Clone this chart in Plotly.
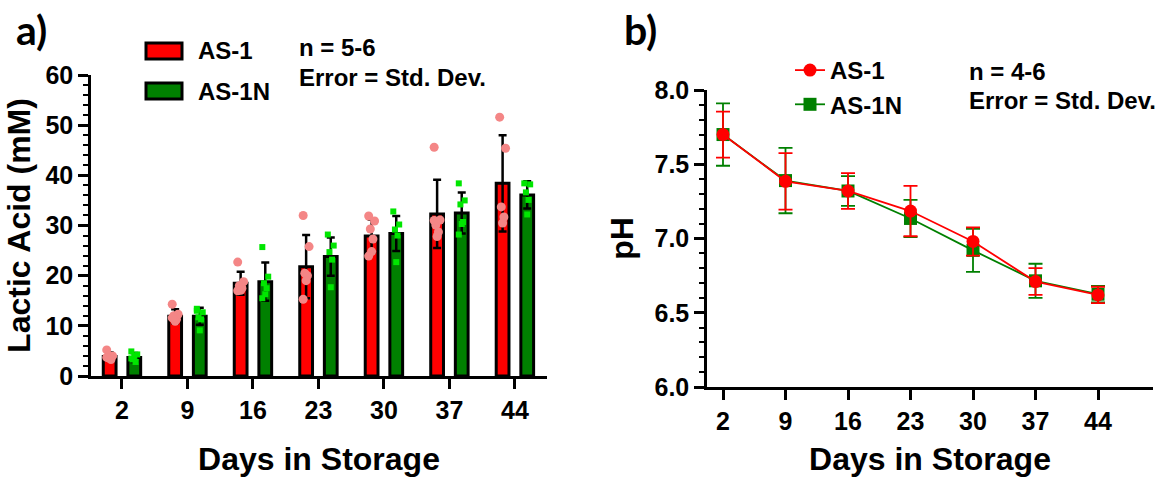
import plotly.graph_objects as go

# ---------------- data ----------------
days = ["2", "9", "16", "23", "30", "37", "44"]
series_names = ["AS-1", "AS-1N"]

# Panel a: lactic acid (mM), bar = mean, error = SD
lactic_mean_as1 = [3.9, 11.9, 18.5, 21.8, 27.9, 32.3, 38.4]
lactic_sd_as1 = [0.8, 1.4, 2.3, 6.3, 3.3, 6.8, 9.6]
lactic_mean_as1n = [3.7, 11.9, 18.8, 23.8, 28.4, 32.5, 36.1]
lactic_sd_as1n = [0.9, 1.7, 3.8, 3.8, 3.5, 4.1, 2.7]

# individual replicate values
lactic_pts_as1 = [
    [5.2, 4.0, 3.6, 3.3, 3.9, 3.7],
    [14.3, 12.3, 12.0, 11.3, 10.9, 11.6],
    [22.7, 18.8, 18.0, 17.5, 17.1, 17.0],
    [32.0, 25.8, 20.5, 20.0, 19.0, 15.3],
    [31.9, 30.9, 29.3, 27.3, 24.8, 23.9],
    [45.6, 31.1, 30.1, 28.7, 27.8, 31.0],
    [51.6, 45.4, 33.7, 31.7, 30.5],
]
lactic_pts_as1n = [
    [4.9, 4.3, 3.3, 2.8, 4.0, 3.5],
    [13.0, 12.7, 11.7, 11.3, 9.1, 13.4],
    [25.7, 19.8, 18.5, 17.5, 16.3, 15.5],
    [28.2, 26.0, 24.7, 23.2, 17.7],
    [32.8, 30.2, 29.2, 28.0, 22.7],
    [38.4, 35.0, 34.2, 30.7, 30.3, 28.2],
    [38.4, 38.2, 36.6, 35.1, 32.2],
]

# Panel b: pH, mean +/- SD
ph_as1 = [7.70, 7.385, 7.32, 7.185, 6.98, 6.71, 6.62]
ph_sd_as1 = [0.155, 0.19, 0.12, 0.17, 0.095, 0.09, 0.055]
ph_as1n = [7.70, 7.39, 7.32, 7.135, 6.92, 6.715, 6.625]
ph_sd_as1n = [0.21, 0.22, 0.10, 0.125, 0.145, 0.115, 0.055]

lactic_note = ["n = 5-6", "Error = Std. Dev."]
ph_note = ["n = 4-6", "Error = Std. Dev."]

# ---------------- style ----------------
W, H = 1171, 477
FONT = "Liberation Sans, Arial, sans-serif"
RED = "#ff0000"
GREEN = "#008000"
PT_RED = "#f48686"
PT_GREEN = "#00e600"
BAR_W = 0.195
BAR_SHIFT = 0.188
jitter = [-0.045, 0.045, -0.02, 0.02, 0.0, -0.045]


def px_x(p):
    return p / W


def px_y(p):
    return 1 - p / H


idx = list(range(len(days)))

fig = go.Figure()

# ---- panel a bars ----
for name, mean, sd, color, shift in [
    (series_names[0], lactic_mean_as1, lactic_sd_as1, RED, -BAR_SHIFT),
    (series_names[1], lactic_mean_as1n, lactic_sd_as1n, GREEN, BAR_SHIFT),
]:
    fig.add_trace(go.Bar(
        x=[i + shift for i in idx], y=mean, width=BAR_W, name=name,
        marker=dict(color=color, line=dict(color="black", width=3)),
        error_y=dict(type="data", array=sd, visible=True, color="black",
                     thickness=2.5, width=4),
        showlegend=False, xaxis="x", yaxis="y",
    ))

# ---- panel a individual points ----
for pts, color, symbol, size, shift in [
    (lactic_pts_as1, PT_RED, "circle", 9, -BAR_SHIFT),
    (lactic_pts_as1n, PT_GREEN, "square", 6, BAR_SHIFT),
]:
    xs, ys = [], []
    for i, vals in zip(idx, pts):
        for k, v in enumerate(vals):
            xs.append(i + shift + jitter[k % len(jitter)])
            ys.append(v)
    fig.add_trace(go.Scatter(
        x=xs, y=ys, mode="markers",
        marker=dict(color=color, symbol=symbol, size=size, line=dict(width=0)),
        showlegend=False, xaxis="x", yaxis="y", cliponaxis=False,
    ))

# ---- panel b lines ----
for name, vals, sd, color, symbol, rank in [
    (series_names[1], ph_as1n, ph_sd_as1n, GREEN, "square", 2),
    (series_names[0], ph_as1, ph_sd_as1, RED, "circle", 1),
]:
    fig.add_trace(go.Scatter(
        x=idx, y=vals, mode="lines+markers", name=name,
        line=dict(color=color, width=1.8),
        marker=dict(color=color, symbol=symbol, size=13,
                    line=dict(width=0)),
        error_y=dict(type="data", array=sd, visible=True, color=color,
                     thickness=1.8, width=7),
        xaxis="x2", yaxis="y2", legend="legend2", legendrank=rank,
        cliponaxis=False,
    ))

axis_common = dict(
    showline=True, linecolor="black", linewidth=2.5,
    ticks="outside", ticklen=10, tickwidth=2.5, tickcolor="black",
    showgrid=False, zeroline=False, automargin=False,
    tickfont=dict(family=FONT, size=25, color="black", weight="bold"),
)
title_font = dict(family=FONT, size=32, color="black", weight="bold")

fig.update_layout(
    width=W, height=H,
    margin=dict(l=0, r=0, t=0, b=0, pad=0, autoexpand=False),
    paper_bgcolor="white", plot_bgcolor="white",
    font=dict(family=FONT, color="black"),
    showlegend=True,
    xaxis=dict(
        domain=[px_x(91), px_x(547)], range=[-0.473, 6.49],
        tickvals=idx, ticktext=days, anchor="y",
        title=dict(text="Days in Storage", font=title_font, standoff=25),
        **axis_common,
    ),
    yaxis=dict(
        domain=[px_y(376), px_y(75)], range=[0, 60], dtick=10,
        anchor="x",
        minor=dict(dtick=2, ticks="outside", ticklen=5, tickwidth=2,
                   tickcolor="black"),
        title=dict(text="Lactic Acid (mM)", font=title_font, standoff=6),
        **axis_common,
    ),
    xaxis2=dict(
        domain=[px_x(707), px_x(1153)], range=[-0.256, 6.88],
        tickvals=idx, ticktext=days, anchor="y2",
        title=dict(text="Days in Storage", font=title_font, standoff=17),
        **axis_common,
    ),
    yaxis2=dict(
        domain=[px_y(387), px_y(90)], range=[6.0, 8.0], dtick=0.5,
        tickformat=".1f", anchor="x2",
        minor=dict(dtick=0.1, ticks="outside", ticklen=5, tickwidth=2,
                   tickcolor="black"),
        title=dict(text="pH", font=title_font, standoff=12),
        **axis_common,
    ),
    legend2=dict(
        x=px_x(790), y=px_y(48), xanchor="left", yanchor="top",
        bgcolor="rgba(0,0,0,0)", borderwidth=0,
        font=dict(family=FONT, size=24, color="black", weight="bold"),
        itemwidth=30, tracegroupgap=4,
    ),
)

# ---- panel a legend (box swatches) ----
for name, color, cy in [(series_names[0], RED, 51), (series_names[1], GREEN, 91)]:
    fig.add_shape(type="rect", xref="paper", yref="paper",
                  x0=px_x(146), x1=px_x(182), y0=px_y(cy + 8), y1=px_y(cy - 8),
                  fillcolor=color, line=dict(color="black", width=3))
    fig.add_annotation(x=px_x(196), y=px_y(cy), xref="paper", yref="paper",
                       xanchor="left", yanchor="middle", showarrow=False,
                       text=name,
                       font=dict(family=FONT, size=24, color="black",
                                 weight="bold"))

# ---- notes ----
for texts, x0, ys in [(lactic_note, 297, [48, 78]), (ph_note, 967, [72, 100])]:
    for t, y in zip(texts, ys):
        fig.add_annotation(x=px_x(x0), y=px_y(y), xref="paper", yref="paper",
                           xanchor="left", yanchor="middle", showarrow=False,
                           text=t,
                           font=dict(family=FONT, size=24, color="black",
                                     weight="bold"))

# ---- panel labels ----
for t, x in [("a)", 31), ("b)", 640)]:
    fig.add_annotation(x=px_x(x), y=px_y(30), xref="paper", yref="paper",
                       xanchor="center", yanchor="middle", showarrow=False,
                       text=t,
                       font=dict(family="Lato, Open Sans, sans-serif", size=41,
                                 color="black", weight="bold"))

fig.write_html(
    "out.html",
    config={"displayModeBar": False},
    post_script="document.body.style.margin='0px';document.body.style.overflow='hidden';",
)
